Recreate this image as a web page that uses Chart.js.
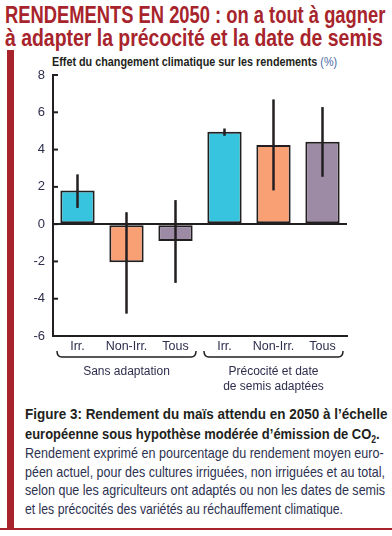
<!DOCTYPE html>
<html>
<head>
<meta charset="utf-8">
<script src="https://cdn.jsdelivr.net/npm/chart.js@4"></script>
<style>
  body { margin: 0; background: #fff; width: 392px; height: 536px; position: relative; overflow: hidden;
         font-family: "Liberation Sans", Arial, sans-serif; }
  .line { position: absolute; white-space: nowrap; transform-origin: 0 50%; }
  .title { color: #a8242c; font-weight: bold; font-size: 24px; line-height: 24px; }
  .redbar { position: absolute; left: 7px; top: 50px; width: 7px; height: 479px; background: #a8242c; }
  .redline { position: absolute; left: 0; top: 528px; width: 392px; height: 2px; background: #a8242c; }
  .ytitle { font-size: 13px; line-height: 14px; font-weight: bold; color: #231f20; }
  .ytitle span { font-weight: normal; color: #4a66a8; }
  #chart { position: absolute; left: 0; top: 55px; }
  .b { font-weight: bold; font-size: 15px; line-height: 18px; color: #231f20; }
  .n { font-size: 15px; line-height: 18px; color: #2d3150; }
</style>
</head>
<body>
<div class="line title" data-w="380" style="left:5px;top:3px">RENDEMENTS EN 2050 : on a tout à gagner</div>
<div class="line title" data-w="378" style="left:5px;top:26px">à adapter la précocité et la date de semis</div>
<div class="redbar"></div>
<div class="redline"></div>
<div class="line ytitle" data-w="285" style="left:52px;top:55px">Effet du changement climatique sur les rendements <span>(%)</span></div>
<canvas id="chart" width="392" height="350"></canvas>
<div class="line b" data-w="362" style="left:25px;top:405px">Figure 3: Rendement du maïs attendu en 2050 à l’échelle</div>
<div class="line b" data-w="355" style="left:25px;top:425px">européenne sous hypothèse modérée d’émission de CO<sub style="font-size:10px;line-height:0">2</sub>.</div>
<div class="line n" data-w="359" style="left:25px;top:444px">Rendement exprimé en pourcentage du rendement moyen euro-</div>
<div class="line n" data-w="360" style="left:25px;top:463px">péen actuel, pour des cultures irriguées, non irriguées et au total,</div>
<div class="line n" data-w="360" style="left:25px;top:481px">selon que les agriculteurs ont adaptés ou non les dates de semis</div>
<div class="line n" data-w="318" style="left:25px;top:500px">et les précocités des variétés au réchauffement climatique.</div>
<script>
// data
const categories = ['Irr.', 'Non-Irr.', 'Tous', 'Irr.', 'Non-Irr.', 'Tous'];
const yields = [1.8, -2.05, -0.9, 4.95, 4.25, 4.42];
const errLow = [0.87, -4.8, -3.15, 4.74, 1.81, 2.54];
const errHigh = [2.67, 0.64, 1.29, 5.13, 6.69, 6.28];
const barColors = ['#36c4de', '#f9a074', '#9d8ba6', '#36c4de', '#f9a074', '#9d8ba6'];
const groupLabels = [['Sans adaptation'], ['Précocité et date', 'de semis adaptées']];
const groupSpans = [[0, 2], [3, 5]];
const yTicks = [-6, -4, -2, 0, 2, 4, 6, 8];

// squeeze each text line to the width it has in the print layout
document.querySelectorAll('.line').forEach(el => {
  const w = +el.dataset.w;
  el.style.transform = 'scaleX(' + (w / el.scrollWidth) + ')';
});

const dark = '#231f20';
const textColor = '#2d2d4d';
const font = '"Liberation Sans", Arial, sans-serif';

const extras = {
  id: 'extras',
  afterDatasetsDraw(chart) {
    const ctx = chart.ctx;
    const x = chart.scales.x, y = chart.scales.y;
    const area = chart.chartArea;
    ctx.save();
    ctx.strokeStyle = dark;
    // error bars
    ctx.lineWidth = 2.5;
    yields.forEach((v, i) => {
      const px = x.getPixelForValue(i);
      ctx.beginPath();
      ctx.moveTo(px, y.getPixelForValue(errLow[i]));
      ctx.lineTo(px, y.getPixelForValue(errHigh[i]));
      ctx.stroke();
    });
    // inward ticks on y axis
    ctx.lineWidth = 2;
    yTicks.forEach(t => {
      const py = y.getPixelForValue(t);
      ctx.beginPath();
      ctx.moveTo(area.left, py);
      ctx.lineTo(area.left + 5, py);
      ctx.stroke();
    });
    // brackets + group labels
    const half = (x.getPixelForValue(1) - x.getPixelForValue(0)) / 2;
    ctx.lineWidth = 1.5;
    ctx.fillStyle = textColor;
    ctx.font = '12px ' + font;
    ctx.textAlign = 'center';
    ctx.textBaseline = 'middle';
    groupSpans.forEach((s, g) => {
      const l = x.getPixelForValue(s[0]) - half + 4;
      const r = x.getPixelForValue(s[1]) + half - 4;
      const top = area.bottom + 15, bot = area.bottom + 21;
      ctx.beginPath();
      ctx.moveTo(l, top);
      ctx.quadraticCurveTo(l, bot, l + 5, bot);
      ctx.lineTo(r - 5, bot);
      ctx.quadraticCurveTo(r, bot, r, top);
      ctx.stroke();
      groupLabels[g].forEach((line, k) => {
        ctx.fillText(line, (l + r) / 2, area.bottom + 36 + k * 15);
      });
    });
    ctx.restore();
  }
};

new Chart(document.getElementById('chart'), {
  type: 'bar',
  data: {
    labels: categories,
    datasets: [{
      data: yields,
      backgroundColor: barColors,
      borderColor: dark,
      borderWidth: 2,
      borderSkipped: false,
      barPercentage: 0.7,
      categoryPercentage: 1
    }]
  },
  options: {
    responsive: false,
    animation: false,
    devicePixelRatio: 1,
    layout: { padding: { top: 20, right: 45, left: 0, bottom: 0 } },
    plugins: { legend: { display: false }, tooltip: { enabled: false } },
    scales: {
      x: {
        afterFit: s => { s.height = 69; },
        grid: { color: 'rgba(0,0,0,0)', drawTicks: false },
        border: { display: true, color: dark, width: 2 },
        ticks: { color: textColor, font: { family: font, size: 12.5 }, padding: 3, maxRotation: 0, autoSkip: false }
      },
      y: {
        min: -6, max: 8,
        afterFit: s => { s.width = 53; },
        grid: {
          drawTicks: false,
          lineWidth: 2,
          color: c => (c.tick && c.tick.value === 0 ? dark : 'rgba(0,0,0,0)')
        },
        border: { display: true, color: dark, width: 2 },
        ticks: { stepSize: 2, color: textColor, font: { family: font, size: 13 }, padding: 8 }
      }
    }
  },
  plugins: [extras]
});
</script>
</body>
</html>
